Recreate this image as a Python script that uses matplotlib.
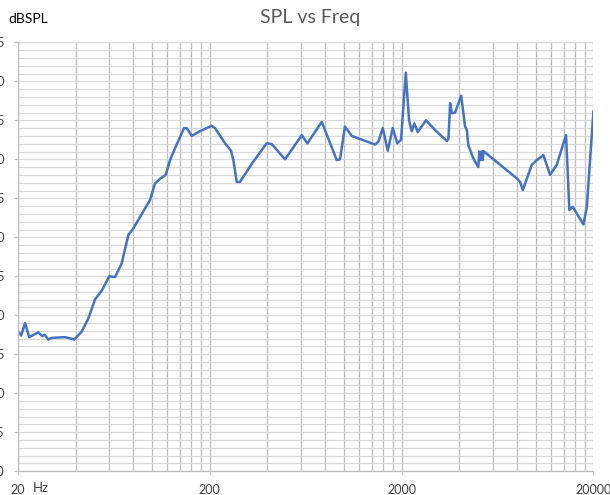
import matplotlib.pyplot as plt
from matplotlib.ticker import FixedLocator, NullFormatter, MultipleLocator

freq = [20, 20.8, 21.8, 22.9, 25.5, 26.8, 27.6, 28.8, 30, 35.2,
        39.4, 43, 46.6, 50.5, 54.7, 59.9, 64.2, 69.5, 75.3, 80,
        97.7, 103.7, 110.2, 117.9, 124.2, 131.8, 146.9, 151.7, 161.1, 177.9,
        204.8, 213.1, 240.3, 258.3, 265.5, 276.6, 287.7, 333, 396.3, 420.8,
        494, 604, 645.7, 767.6, 918.6, 955.3, 1014, 1100, 1215, 1455,
        1514, 1596, 1695, 1799, 1901, 1987, 2104, 2188, 2260, 2333,
        2428, 2684, 2990, 3443, 3510, 3582, 3657, 3803, 4090, 4287,
        4378, 4459, 4733, 5024, 5089, 5175, 5235, 5300, 5340, 7975,
        8300, 8572, 9550, 10140, 10970, 11890, 12880, 14400, 14990, 15610,
        17740, 18480, 20000]
spl = [58.0, 57.4, 59.0, 57.2, 57.8, 57.35, 57.5, 56.9, 57.1, 57.2,
       56.9, 57.9, 59.6, 62.05, 63.15, 65.0, 64.9, 66.65, 70.3, 71.15,
       74.8, 76.9, 77.5, 78.0, 79.9, 81.4, 84.0, 84.0, 83.0, 83.6,
       84.3, 84.0, 82.05, 81.1, 79.9, 77.1, 77.1, 79.5, 82.05, 81.95,
       80.0, 83.1, 82.05, 84.8, 79.9, 80.0, 84.2, 83.0, 82.6, 81.9,
       82.25, 84.0, 81.1, 84.0, 82.05, 82.5, 91.1, 85.0, 83.6, 84.6,
       83.5, 85.0, 83.75, 82.35, 82.6, 87.2, 85.9, 86.0, 88.15, 84.2,
       83.75, 81.8, 80.1, 79.0, 81.0, 79.9, 81.0, 79.9, 81.05, 77.55,
       77.1, 76.05, 79.3, 79.9, 80.55, 78.0, 79.3, 83.1, 73.5, 73.9,
       71.65, 73.9, 86.1]

x_major = [20, 200, 2000, 20000]
x_labels = ["20", "200", "2000", "20000"]
y_min, y_max = 40, 95

plt.rcParams['font.family'] = ['Lato', 'DejaVu Sans']

W, H = 610, 495
fig = plt.figure(figsize=(W / 100, H / 100), dpi=100)
left, right, top, bottom = 17.9, 593.4, 42.3, 471.3
ax = fig.add_axes([left / W, 1 - bottom / H, (right - left) / W, (bottom - top) / H])

ax.set_xscale('log')
ax.set_xlim(20, 20000)
ax.set_ylim(y_min, y_max)

# Excel style log axis: minors at 2..9 times each decade start
minors = [d * k for d in x_major[:-1] for k in range(2, 10)]
ax.xaxis.set_major_locator(FixedLocator(x_major))
ax.xaxis.set_minor_locator(FixedLocator(minors))
ax.set_xticks(x_major, x_labels)
ax.xaxis.set_minor_formatter(NullFormatter())
ax.yaxis.set_major_locator(MultipleLocator(5))
ax.yaxis.set_minor_locator(MultipleLocator(1))

ax.grid(which='both', axis='x', color='#BFBFBF', linewidth=0.9)
ax.grid(which='both', axis='y', color='#D9D9D9', linewidth=0.9)
ax.set_axisbelow(True)

for s in ['top', 'right']:
    ax.spines[s].set_visible(False)
for s in ['left', 'bottom']:
    ax.spines[s].set_color('#BFBFBF')
    ax.spines[s].set_linewidth(0.9)

ax.tick_params(which='major', length=3, width=0.9, color='#BFBFBF',
               labelsize=9, labelcolor='#404040')
ax.tick_params(which='minor', length=0)
ax.tick_params(axis='x', pad=6)
ax.tick_params(axis='y', pad=6.5)

ax.plot(freq, spl, color='#4472C4', linewidth=1.8, solid_joinstyle='round')

fig.text(310 / W, 1 - 17 / H, 'SPL vs Freq', ha='center', va='center',
         color='#595959', fontsize=14)
fig.text(8 / W, 1 - 19 / H, 'dBSPL', ha='left', va='center',
         color='black', fontsize=10)
fig.text(33 / W, 1 - 488 / H, 'Hz', ha='left', va='center',
         color='#404040', fontsize=9.5)

fig.savefig('out.png', dpi=100)
